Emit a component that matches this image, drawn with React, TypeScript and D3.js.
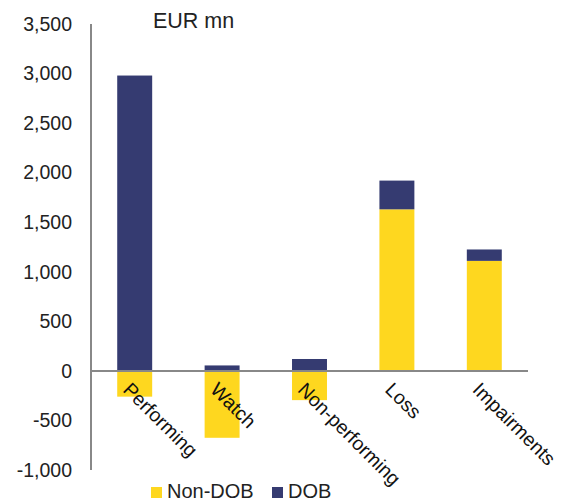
import React from "react";
import * as d3 from "d3";

const categories = ["Performing", "Watch", "Non-performing", "Loss", "Impairments"];
const nonDob = [-260, -675, -295, 1630, 1110];
const dob = [2980, 55, 120, 290, 115];
const yTicks = [-1000, -500, 0, 500, 1000, 1500, 2000, 2500, 3000, 3500];
const seriesNames = ["Non-DOB", "DOB"];
const seriesColors = ["#FED71F", "#353B71"];

const W = 563;
const H = 504;
const FONT = "Liberation Sans, Arial, sans-serif";

export default function App() {
  const y = d3.scaleLinear().domain([-1000, 3500]).range([470, 24]);
  const x = d3
    .scaleBand<string>()
    .domain(categories)
    .range([91, 528])
    .paddingInner(0.6)
    .paddingOuter(0.3);

  const rows = categories.map((c, i) => ({ cat: c, "Non-DOB": nonDob[i], DOB: dob[i] }));
  const stacked = d3
    .stack<any>()
    .keys(seriesNames)
    .offset(d3.stackOffsetDiverging)(rows);

  const fmt = (v: number) => d3.format(",")(v).replace("\u2212", "-");

  return (
    <svg
      width={W}
      height={H}
      style={{ position: "absolute", left: 0, top: 0, background: "#fff" }}
      fontFamily={FONT}
    >
      {stacked.map((s, si) =>
        s.map((d, i) => (
          <rect
            key={`${si}-${i}`}
            x={x(categories[i])}
            width={x.bandwidth()}
            y={y(Math.max(d[0], d[1]))}
            height={Math.abs(y(d[0]) - y(d[1]))}
            fill={seriesColors[si]}
          />
        ))
      )}
      <line x1={91} x2={91} y1={y(3500)} y2={y(-1000)} stroke="#888" strokeWidth={2} />
      <line x1={91} x2={528} y1={y(0)} y2={y(0)} stroke="#888" strokeWidth={2} />
      {yTicks.map((t) => (
        <text key={t} x={72} y={y(t)} dy="0.35em" textAnchor="end" fontSize={19.5} fill="#222">
          {fmt(t)}
        </text>
      ))}
      <text x={153} y={28} fontSize={21.5} fill="#222">
        EUR mn
      </text>
      {categories.map((c) => {
        const cx = (x(c) as number) + x.bandwidth() / 2;
        return (
          <text
            key={c}
            transform={`translate(${cx - 3},${381}) rotate(45)`}
            dy="0.71em"
            fontSize={19.5}
            fill="#111"
          >
            {c}
          </text>
        );
      })}
      {seriesNames.map((n, i) => {
        const lx = i === 0 ? 151 : 272;
        return (
          <g key={n}>
            <rect x={lx} y={487} width={11} height={11} fill={seriesColors[i]} />
            <text x={lx + 16} y={498} fontSize={20} fill="#222">
              {n}
            </text>
          </g>
        );
      })}
    </svg>
  );
}
